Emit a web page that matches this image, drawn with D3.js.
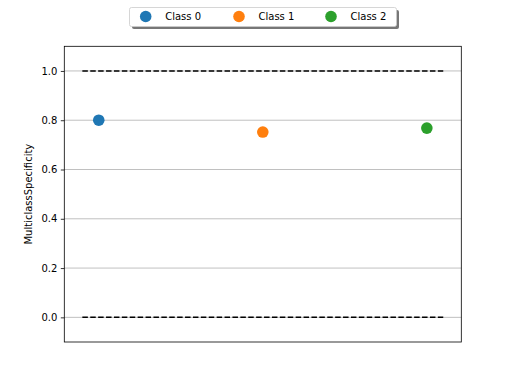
<!DOCTYPE html>
<html>
<head>
<meta charset="utf-8">
<script src="https://cdn.jsdelivr.net/npm/d3@7"></script>
<style>
  body { margin: 0; background: #fff; }
  svg { font-family: "DejaVu Sans", sans-serif; }
</style>
</head>
<body>
<div id="chart"></div>
<script>
// chart data
var classes = ["Class 0", "Class 1", "Class 2"];
var specificity = [0.80, 0.752, 0.768];
var colors = ["#1f77b4", "#ff7f0e", "#2ca02c"];
var refLevels = [0.0, 1.0];
var yTicks = [0.0, 0.2, 0.4, 0.6, 0.8, 1.0];

var width = 512,
    height = 384,
    axLeft = 64.3, axRight = 461.3, axTop = 46.3, axBottom = 342;

var svg = d3.select("#chart").append("svg")
    .attr("width", width)
    .attr("height", height);

// x: class index, padded like matplotlib auto margins
var x = d3.scaleLinear().domain([-0.21, 2.21]).range([axLeft, axRight]);
var y = d3.scaleLinear().domain([-0.1, 1.1]).range([axBottom, axTop]);

// grid lines
svg.append("g").selectAll("line")
    .data(yTicks).enter().append("line")
    .attr("x1", axLeft).attr("x2", axRight)
    .attr("y1", function(d) { return y(d); })
    .attr("y2", function(d) { return y(d); })
    .attr("stroke", "#b0b0b0")
    .attr("stroke-width", 0.8);

// dashed reference lines
svg.append("g").selectAll("line")
    .data(refLevels).enter().append("line")
    .attr("x1", x(-0.1)).attr("x2", x(2.1))
    .attr("y1", function(d) { return y(d); })
    .attr("y2", function(d) { return y(d); })
    .attr("stroke", "#000")
    .attr("stroke-width", 1.5)
    .attr("stroke-dasharray", "5.5,2.4");

// points
svg.append("g").selectAll("circle")
    .data(specificity).enter().append("circle")
    .attr("cx", function(d, i) { return x(i); })
    .attr("cy", function(d) { return y(d); })
    .attr("r", 5.8)
    .attr("fill", function(d, i) { return colors[i]; });

// frame
svg.append("rect")
    .attr("x", axLeft).attr("y", axTop)
    .attr("width", axRight - axLeft).attr("height", axBottom - axTop)
    .attr("fill", "none")
    .attr("stroke", "#000")
    .attr("stroke-width", 0.8);

// y axis
var yAxis = d3.axisLeft(y)
    .tickValues(yTicks)
    .tickFormat(d3.format(".1f"))
    .tickSize(3.5)
    .tickPadding(3.5);
var ga = svg.append("g")
    .attr("transform", "translate(" + axLeft + ",0)")
    .call(yAxis);
ga.select(".domain").remove();
ga.selectAll("line").attr("stroke-width", 0.8);
ga.selectAll("text")
    .attr("font-size", 10)
    .attr("font-family", "DejaVu Sans, sans-serif")
    .attr("fill", "#000");

// y label
svg.append("text")
    .attr("transform", "translate(32," + ((axTop + axBottom) / 2) + ") rotate(-90)")
    .attr("text-anchor", "middle")
    .attr("font-size", 10)
    .text("MulticlassSpecificity");

// legend with shadow
var lg = svg.append("g");
lg.append("rect")
    .attr("x", 132).attr("y", 10)
    .attr("width", 267).attr("height", 19)
    .attr("rx", 2)
    .attr("fill", "#777");
lg.append("rect")
    .attr("x", 129.5).attr("y", 7.5)
    .attr("width", 267).attr("height", 19)
    .attr("rx", 2)
    .attr("fill", "#fff")
    .attr("stroke", "#ccc")
    .attr("stroke-width", 0.8);

var markX = [145.7, 239, 331];
var item = lg.selectAll(".item")
    .data(classes).enter().append("g")
    .attr("class", "item")
    .attr("transform", function(d, i) { return "translate(" + markX[i] + ",16.5)"; });
item.append("circle")
    .attr("r", 5.8)
    .attr("fill", function(d, i) { return colors[i]; });
item.append("text")
    .attr("x", 19.5)
    .attr("dy", "0.35em")
    .attr("font-size", 10)
    .text(function(d) { return d; });
</script>
</body>
</html>
